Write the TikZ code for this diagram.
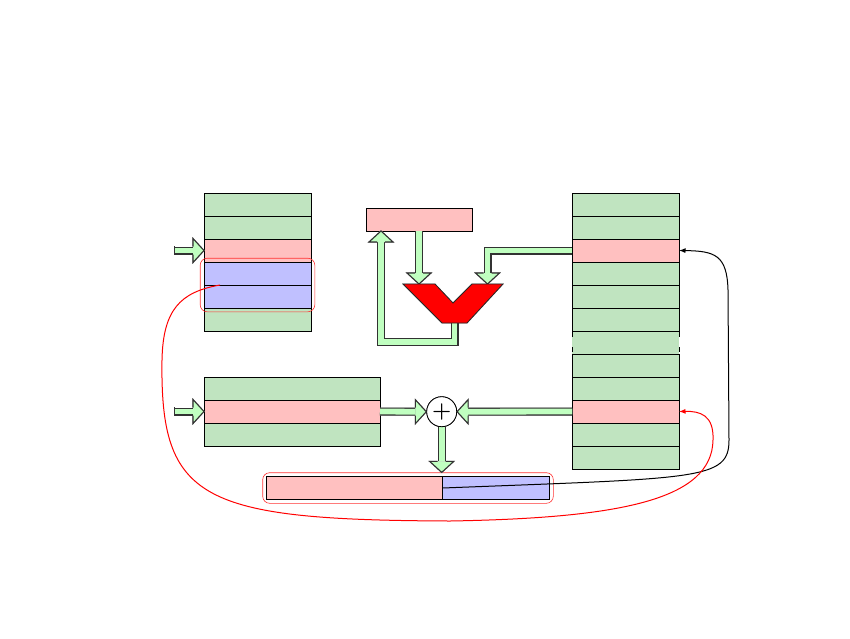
\documentclass[tikz,border=0pt]{standalone}
\usetikzlibrary{calc,fit,arrows.meta}
\definecolor{cg}{RGB}{192,228,192}
\definecolor{cp}{RGB}{255,192,192}
\definecolor{cb}{RGB}{192,192,255}
\definecolor{fatfill}{RGB}{192,255,192}
\definecolor{fatline}{RGB}{50,50,50}
\colorlet{alufill}{red}
\colorlet{aluline}{black!85}
\newcommand\fathead[2]{\begin{scope}[shift={(#1)},rotate=#2]
  \fill[fatfill] (0,0) -- (-11,12) -- (-11,-12) -- cycle;
  \draw[fatline, line width=1.1pt, line join=miter] (-11,4) -- (-11,12) -- (0,0) -- (-11,-12) -- (-11,-4);
\end{scope}}
\newcommand\fatarrows{%
  \draw[fat] (T.south) -- ($(aluL)+(0,-11)$);
  \fathead{aluL}{-90}
  \draw[fat] (R3.west) -| ($(aluR)+(0,-11)$);
  \fathead{aluR}{-90}
  \draw[fat] (aluB) -- ++(0,19) -| ($(Tb)+(0,11)$);
  \fathead{Tb}{90}
  \draw[fat] (M2.east) -- ($(P.west)+(-11,0)$);
  \fathead{P.west}{0}
  \draw[fat] (R10.west) -- ($(P.east)+(11,0)$);
  \fathead{P.east}{180}
  \draw[fat] (P.south) -- ($(Bt)+(0,-11)$);
  \fathead{Bt}{-90}
  \draw[fat] (inL) -- ($(L3.west)+(-11,0)$);
  \draw[fatline, line width=1.1pt] ($(inL)+(0.55,-4.05)$) -- ($(inL)+(0.55,4.05)$);
  \fathead{L3.west}{0}
  \draw[fat] (inM) -- ($(M2.west)+(-11,0)$);
  \draw[fatline, line width=1.1pt] ($(inM)+(0.55,-4.05)$) -- ($(inM)+(0.55,4.05)$);
  \fathead{M2.west}{0}
  \filldraw[fill=alufill, draw=aluline, line width=0.8pt, line join=miter] (A1) -- (A2) -- (A3) -- (A4) -- (A5) -- (A6) -- (A7) -- cycle;
}
\begin{document}
\begin{tikzpicture}[x=1pt,y=-1pt,
  cell/.style={draw=black, line width=0.8pt, inner sep=0pt, outer sep=0pt, minimum height=23pt, anchor=north west},
  redbox/.style={draw=red!80, rounded corners=7pt, inner sep=3.8pt, line width=0.6pt},
  fat/.style={draw=fatline, line width=1.1pt, double=fatfill, double distance=5.8pt},
  plusnode/.style={circle, draw, line width=0.8pt, fill=white, minimum size=30pt, inner sep=0pt},
  curvearrow/.style={line width=1pt, -{Latex[length=6.5pt,width=5pt]}}]
\useasboundingbox (0,0) rectangle (850,638);

% left stack
\foreach \i/\c in {1/cg,2/cg,3/cp,4/cb,5/cb,6/cg}
  \node[cell, minimum width=107pt, fill=\c] (L\i) at (204,{193+23*(\i-1)}) {};

% right stack
\node[cell, draw=none, fill=cg, minimum width=107pt] (R7) at (572,331) {};
\foreach \i/\c in {1/cg,2/cg,3/cp,4/cg,5/cg,6/cg,8/cg,9/cg,10/cp,11/cg,12/cg}
  \node[cell, minimum width=107pt, fill=\c] (R\i) at (572,{193+23*(\i-1)}) {};
\draw[line width=0.8pt, dash pattern=on 5pt off 10pt] ($(R7.north west)+(0,1)$) -- (R7.south west);
\draw[line width=0.8pt, dash pattern=on 5pt off 10pt] ($(R7.north east)+(0,1)$) -- (R7.south east);

% middle stack
\foreach \i/\c in {1/cg,2/cp,3/cg}
  \node[cell, minimum width=176pt, fill=\c] (M\i) at (204,{377+23*(\i-1)}) {};

% top box
\node[cell, minimum width=106pt, fill=cp] (T) at (366,208) {};

% bottom box
\node[cell, minimum width=176pt, fill=cp] (B1) at (266.5,476.5) {};
\node[cell, minimum width=107pt, fill=cb, anchor=west] (B2) at (B1.east) {};

% selection boxes
\node[redbox, fit=(L4)(L5)] (SelL) {};
\node[redbox, fit=(B1)(B2)] (SelB) {};

% ALU coordinates
\coordinate (A1) at (403,284);
\coordinate (A2) at (435,284);
\coordinate (A3) at (453,303);
\coordinate (A4) at (472,284);
\coordinate (A5) at (503,284);
\coordinate (A6) at (467,323);
\coordinate (A7) at (442,323);
\coordinate (aluL) at (419,284);
\coordinate (aluR) at (487.5,284);
\coordinate (aluB) at (454.5,323);
\coordinate (Tb) at ($(T.south west)+(15,0)$);
\coordinate (inL) at ($(L3.west)+(-30,0)$);
\coordinate (inM) at ($(M2.west)+(-30,0)$);

% plus node (position)
\node[plusnode] (P) at (441.7,411.7) {};
\coordinate (Bt) at (P.south |- SelB.north);

% shadows
\begin{scope}[shift={(1.3,1.3)}]
  \colorlet{fatfill}{black!35}\colorlet{fatline}{black!35}%
  \colorlet{alufill}{black!35}\colorlet{aluline}{black!35}%
  \fatarrows
\end{scope}
% fat arrows and ALU
\fatarrows

% plus on top
\node[plusnode] (Pplus) at (P) {\fontsize{22}{22}\selectfont\bfseries +};

% curves
\draw[curvearrow, black] (B2.west) .. controls (700,478) and (729,480) .. (729,440)
  -- (728,290) .. controls (727,255) and (715,251) .. (R3.east);
\draw[curvearrow, red] ($(L5.north west)+(16,0)$) .. controls (180,292) and (163,310) .. (162,360)
  .. controls (160,500) and (200,520) .. (450,521)
  .. controls (620,518) and (712,500) .. (713,440)
  .. controls (714,415) and (700,411) .. (R10.east);
\end{tikzpicture}
\end{document}
